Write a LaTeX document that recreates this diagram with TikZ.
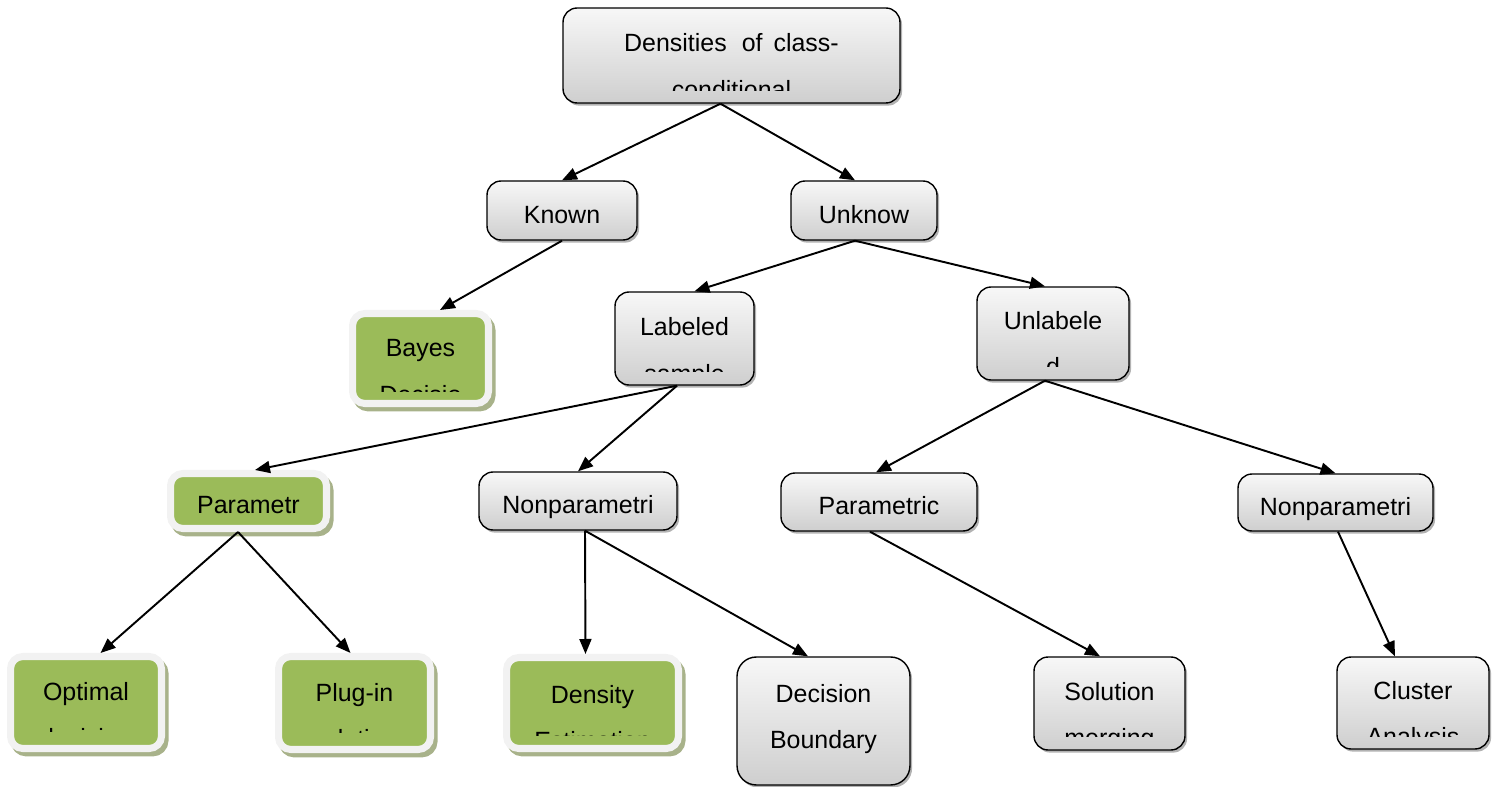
\documentclass[tikz,border=0pt]{standalone}
\usepackage{fontspec}
\setmainfont{Liberation Sans}
\usetikzlibrary{arrows.meta,calc,shadows}
\definecolor{leaf}{RGB}{155,187,89}
\definecolor{leafrim}{RGB}{242,242,242}
\definecolor{leafshadow}{RGB}{168,178,138}

\begin{document}
\begin{tikzpicture}[x=0.02cm,y=-0.02cm,
    txt/.style={font=\fontsize{14.2}{17}\selectfont,inner sep=0pt,anchor=base},
    box/.style={rectangle,rounded corners=8pt,draw=black,line width=0.8pt,
        top color=gray!6,bottom color=gray!38,
        font=\fontsize{14.2}{17}\selectfont,text height=0.52cm,text depth=0pt,
        drop shadow={shadow xshift=1.2pt,shadow yshift=-1.5pt,fill=black!60,opacity=0.5}},
    leafbox/.style={rectangle,rounded corners=7pt,draw=leafrim,line width=4pt,fill=leaf,
        font=\fontsize{14.2}{17}\selectfont,text height=0.52cm,text depth=0pt,
        drop shadow={shadow xshift=2pt,shadow yshift=-2.5pt,fill=leafshadow,
            draw=leafshadow,line width=4pt,opacity=1}},
    two lines/.style n args={4}{path picture={
        \clip ([yshift=#4]path picture bounding box.south west) rectangle (path picture bounding box.north east);
        \node[txt] at ([yshift=-#3]path picture bounding box.north) {#1};
        \node[txt] at ([yshift=-#3-0.93cm]path picture bounding box.north) {#2};}},
    arr/.style={-{Triangle[length=0.3cm,width=0.24cm]},line width=1.1pt}]

    \useasboundingbox (0,0) rectangle (1499,787);

    % Root
    \node[box,minimum width=6.74cm,minimum height=1.9cm,
        two lines={Densities\hspace{0.3cm}of\hspace{0.22cm}class-}{conditional}{0.88cm}{0.24cm}] (dens) at (731.5,55.5) {};

    % Known / unknown
    \node[box,minimum width=3cm,minimum height=1.18cm] (known) at (562,210.5) {Known};
    \node[box,minimum width=2.92cm,minimum height=1.18cm] (unknow) at (864,210.5) {Unknow};

    \node[leafbox,minimum width=2.72cm,minimum height=1.8cm,
        two lines={Bayes}{Decisio}{0.87cm}{0.23cm}] (bayes) at (420.5,358.5) {};
    \node[box,minimum width=2.78cm,minimum height=1.86cm,
        two lines={Labeled}{sample}{0.88cm}{0.26cm}] (labeled) at (684.5,338.5) {};
    \node[box,minimum width=3.04cm,minimum height=1.86cm,
        two lines={Unlabele}{d}{0.84cm}{0.26cm}] (unlabeled) at (1053,333.5) {};

    % Parametric / nonparametric
    \node[leafbox,minimum width=3.12cm,minimum height=1.1cm] (param) at (248.5,501) {Parametr};
    \node[box,minimum width=3.96cm,minimum height=1.16cm] (nonparam) at (578,501) {Nonparametri};
    \node[box,minimum width=3.92cm,minimum height=1.16cm] (paramu) at (879,502) {Parametric};
    \node[box,minimum width=3.9cm,minimum height=1.14cm] (nonparamu) at (1335.5,502.5) {Nonparametri};

    % Leaves
    \node[leafbox,minimum width=3.02cm,minimum height=1.84cm,
        two lines={Optimal}{decision}{0.87cm}{0.34cm}] (optimal) at (86,702.5) {};
    \node[leafbox,minimum width=3.04cm,minimum height=1.86cm,
        two lines={Plug-in}{solution}{0.9cm}{0.34cm}] (plugin) at (354.5,703) {};
    \node[leafbox,minimum width=3.44cm,minimum height=1.82cm,
        two lines={Density}{Estimation}{0.91cm}{0.25cm}] (density) at (592.5,703) {};
    \node[box,minimum width=3.46cm,minimum height=2.56cm,rounded corners=11pt,
        two lines={Decision}{Boundary}{0.9cm}{0cm}] (decision) at (823.5,721) {};
    \node[box,minimum width=3.02cm,minimum height=1.86cm,
        two lines={Solution}{merging}{0.86cm}{0.26cm}] (solution) at (1109.5,703.5) {};
    \node[box,minimum width=3.04cm,minimum height=1.84cm,
        two lines={Cluster}{Analysis}{0.84cm}{0.24cm}] (cluster) at (1413,703) {};

    % Arrows
    \draw[arr] ($(dens.south)+(-11,0)$) -- (known.north);
    \draw[arr] ($(dens.south)+(-11,0)$) -- ($(unknow.north)+(-9,0)$);
    \draw[arr] (known.south) -- ($(bayes.north)+(19.5,0)$);
    \draw[arr] ($(unknow.south)+(-9,0)$) -- ($(labeled.north)+(10,0)$);
    \draw[arr] ($(unknow.south)+(-9,0)$) -- ($(unlabeled.north)+(-8,0)$);
    \draw[arr] ($(labeled.south)+(-7.5,0)$) -- ($(param.north)+(6.5,0)$);
    \draw[arr] ($(labeled.south)+(-7.5,0)$) -- (nonparam.north);
    \draw[arr] ($(unlabeled.south)+(-8,0)$) -- ($(paramu.north)+(-3,0)$);
    \draw[arr] ($(unlabeled.south)+(-8,0)$) -- (nonparamu.north);
    \draw[arr] ($(param.south)+(-10.5,0)$) -- ($(optimal.north)+(14.5,0)$);
    \draw[arr] ($(param.south)+(-10.5,0)$) -- ($(plugin.north)+(-4,0)$);
    \draw[arr] ($(nonparam.south)+(7,0)$) -- ($(density.north)+(-7,0)$);
    \draw[arr] ($(nonparam.south)+(7,0)$) -- ($(decision.north)+(-15.5,0)$);
    \draw[arr] ($(paramu.south)+(-9,0)$) -- ($(solution.north)+(-9.5,0)$);
    \draw[arr] ($(nonparamu.south)+(2.5,0)$) -- ($(cluster.north)+(-18,0)$);
\end{tikzpicture}
\end{document}
